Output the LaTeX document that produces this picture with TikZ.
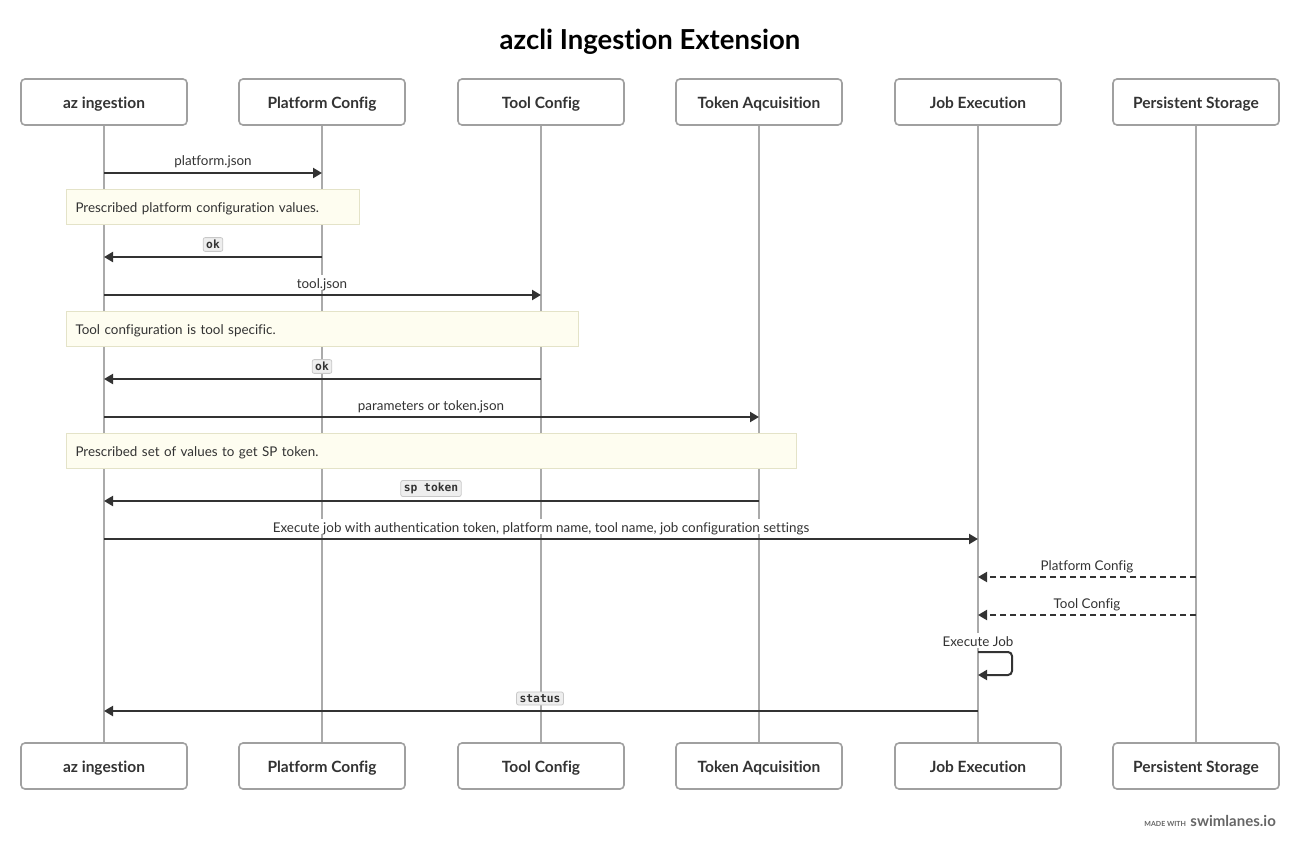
\documentclass[tikz,border=0pt]{standalone}
\usepackage{fontspec}
\setmainfont[Ligatures={NoCommon}]{Lato}
\newfontfamily\codefont{DejaVu Sans Mono}
\usetikzlibrary{arrows.meta}
\definecolor{textdark}{HTML}{333333}
\definecolor{boxgray}{HTML}{A0A0A0}
\definecolor{lifegray}{HTML}{AAAAAA}
\definecolor{arrowdark}{HTML}{333333}
\definecolor{notebg}{HTML}{FEFDF0}
\definecolor{noteborder}{HTML}{E4E3C8}
\definecolor{codebg}{HTML}{EEEEEE}
\definecolor{codeborder}{HTML}{C8C8C8}
\definecolor{wmgray}{HTML}{666666}
\begin{document}
\begin{tikzpicture}[x=1pt,y=-1pt,
  actor/.style={draw=boxgray, line width=1.6pt, rounded corners=4pt, minimum width=166pt, minimum height=46pt, fill=white, text=textdark, text height=13pt, text depth=0pt, font=\fontsize{15.5}{18}\selectfont\bfseries},
  life/.style={draw=lifegray, line width=2pt},
  msg/.style={draw=arrowdark, line width=2pt, -{Triangle[length=9pt,width=10pt]}},
  dmsg/.style={msg, dash pattern=on 6pt off 4pt},
  lbl/.style={fill=white, inner sep=1.5pt, text=textdark, text height=12pt, text depth=0pt, font=\fontsize{13.4}{15}\selectfont},
  code/.style={fill=codebg, draw=codeborder, line width=0.8pt, rounded corners=2pt, inner xsep=3pt, inner ysep=2.5pt, text=textdark, font=\codefont\bfseries\fontsize{11.3}{13}\selectfont},
  note/.style={fill=notebg, draw=noteborder, line width=1pt, anchor=north west, minimum height=35pt, inner xsep=9pt, text height=11pt, text depth=0pt, align=left, text=textdark, font=\fontsize{13.4}{15}\selectfont}
]
\fill[white] (0,0) rectangle (1300,850);
\useasboundingbox (0,0) rectangle (1300,850);

\node[text=black, text height=23pt, text depth=0pt, font=\fontsize{27.5}{32}\selectfont\bfseries] (title) at (650,38) {azcli Ingestion Extension};

% actors
\foreach \i/\x/\t in {1/104/az ingestion, 2/322/Platform Config, 3/541/Tool Config, 4/759/Token Aqcuisition, 5/978/Job Execution, 6/1196/Persistent Storage}{
  \node[actor] (t\i) at (\x,102) {\t};
  \node[actor] (b\i) at (\x,766) {\t};
}
\foreach \i in {1,...,6}{
  \draw[life] (t\i) -- (b\i);
}

% 1 platform.json
\draw[msg] (t1 |- 0,173) -- (t2 |- 0,173);
\node[lbl] (l1) at (213,160) {platform.json};
\node[note, text width=275pt] (n1) at (66,189) {Prescribed platform configuration values.};
\draw[msg] (t2 |- 0,257) -- (t1 |- 0,257);
\node[code] (l2) at (213,244.5) {ok};

% tool.json
\draw[msg] (t1 |- 0,295) -- (t3 |- 0,295);
\node[lbl] (l3) at (322,282) {tool.json};
\node[note, text width=494pt] (n2) at (66,311) {Tool configuration is tool specific.};
\draw[msg] (t3 |- 0,379) -- (t1 |- 0,379);
\node[code] (l4) at (322,366.5) {ok};

% token
\draw[msg] (t1 |- 0,417) -- (t4 |- 0,417);
\node[lbl] (l5) at (431,404) {parameters or token.json};
\node[note, text width=712pt] (n3) at (66,433) {Prescribed set of values to get SP token.};
\draw[msg] (t4 |- 0,501) -- (t1 |- 0,501);
\node[code] (l6) at (431,488.5) {sp token};

% execute
\draw[msg] (t1 |- 0,539) -- (t5 |- 0,539);
\node[lbl] (l7) at (541,526) {Execute job with authentication token, platform name, tool name, job configuration settings};

\draw[dmsg] (t6 |- 0,577) -- (t5 |- 0,577);
\node[lbl] (l8) at (1087,564) {Platform Config};
\draw[dmsg] (t6 |- 0,615) -- (t5 |- 0,615);
\node[lbl] (l9) at (1087,602) {Tool Config};

\node[lbl] (l10) at (978,640) {Execute Job};
\draw[msg, rounded corners=4pt] (t5 |- 0,652) -- (1012,652) -- (1012,675) -- (t5 |- 0,675);

\draw[msg] (t5 |- 0,711) -- (t1 |- 0,711);
\node[code] (l11) at (540,698.5) {status};

% watermark
\node[anchor=base east, text=wmgray, font=\fontsize{15}{18}\selectfont\bfseries, inner sep=0pt] (wm2) at (1276,826) {swimlanes.io};
\node[anchor=base east, text=wmgray, font=\fontsize{7}{8}\selectfont\bfseries, inner sep=0pt] (wm1) at ([xshift=-4pt]wm2.base west) {MADE WITH};
\end{tikzpicture}
\end{document}
